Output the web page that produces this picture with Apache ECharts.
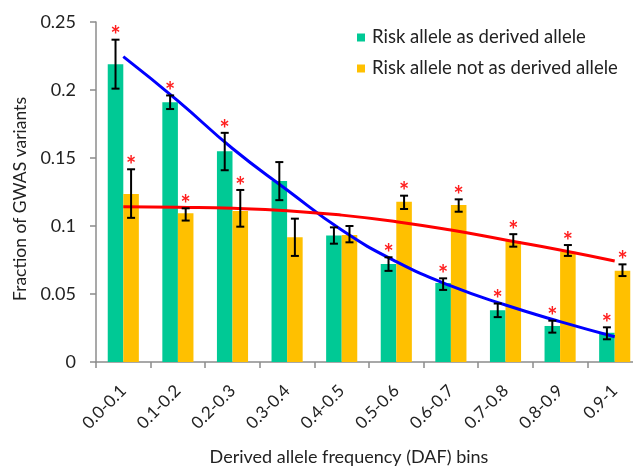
<!DOCTYPE html>
<html>
<head>
<meta charset="utf-8">
<script src="https://cdn.jsdelivr.net/npm/echarts@6/dist/echarts.min.js"></script>
<style>
  html, body { margin: 0; padding: 0; background: #fff; }
  #chart { width: 633px; height: 468px; }
</style>
</head>
<body>
<div id="chart"></div>
<script>
// DAF bins
const bins = ['0.0-0.1', '0.1-0.2', '0.2-0.3', '0.3-0.4', '0.4-0.5',
              '0.5-0.6', '0.6-0.7', '0.7-0.8', '0.8-0.9', '0.9-1'];

// Risk allele as derived allele
const derived      = [0.219, 0.191, 0.155, 0.133, 0.093, 0.072, 0.058, 0.038, 0.0265, 0.0215];
const derivedLow   = [0.201, 0.186, 0.141, 0.119, 0.087, 0.067, 0.053, 0.033, 0.0216, 0.0167];
const derivedHigh  = [0.237, 0.196, 0.1685, 0.147, 0.099, 0.077, 0.0615, 0.043, 0.0304, 0.0255];
const derivedSig   = [true, true, true, false, false, true, true, true, true, true];
const derivedTrend = [0.2245, 0.192, 0.157, 0.1265, 0.097, 0.0738, 0.0559, 0.0419, 0.0297, 0.0186];

// Risk allele not as derived allele
const notDerived      = [0.1235, 0.1093, 0.111, 0.0917, 0.0934, 0.1179, 0.1154, 0.089, 0.0811, 0.0671];
const notDerivedLow   = [0.106, 0.104, 0.0995, 0.078, 0.088, 0.1125, 0.1105, 0.0848, 0.078, 0.0632];
const notDerivedHigh  = [0.1417, 0.113, 0.1265, 0.1054, 0.100, 0.1223, 0.1196, 0.094, 0.086, 0.0718];
const notDerivedSig   = [true, true, true, false, false, true, true, true, true, true];
const notDerivedTrend = [0.1142, 0.1137, 0.113, 0.1113, 0.108, 0.1032, 0.097, 0.0897, 0.0824, 0.0743];

const FONT = 'Lato';
const GREEN = '#00C995';
const YELLOW = '#FFC000';
const BAR_FRAC = 0.285;

// error bars with caps, plus a red asterisk where the difference is significant
function errorSeries(low, high, sig, side) {
  return {
    type: 'custom',
    z: 5,
    silent: true,
    data: bins.map((b, i) => [i, low[i], high[i], sig[i] ? 1 : 0]),
    renderItem: function (params, api) {
      const i = api.value(0);
      const band = api.size([1, 0])[0];
      const dx = side * band * BAR_FRAC / 2;
      const lo = api.coord([i, api.value(1)]);
      const hi = api.coord([i, api.value(2)]);
      const x = lo[0] + dx;
      const cap = 4;
      const style = { stroke: '#000', lineWidth: 2 };
      const children = [
        { type: 'line', shape: { x1: x, y1: hi[1], x2: x, y2: lo[1] }, style: style },
        { type: 'line', shape: { x1: x - cap, y1: hi[1], x2: x + cap, y2: hi[1] }, style: style },
        { type: 'line', shape: { x1: x - cap, y1: lo[1], x2: x + cap, y2: lo[1] }, style: style }
      ];
      if (api.value(3)) {
        children.push({
          type: 'text',
          style: {
            x: x, y: hi[1] + 9, text: '*',
            fill: '#FF2020', font: 'bold 24px ' + FONT,
            align: 'center', verticalAlign: 'bottom'
          }
        });
      }
      return { type: 'group', children: children };
    }
  };
}

const chart = echarts.init(document.getElementById('chart'));
chart.setOption({
  animation: false,
  backgroundColor: '#fff',
  textStyle: { fontFamily: FONT },
  grid: { left: 96, top: 22, width: 546, height: 340, outerBoundsMode: 'none', containLabel: false },
  legend: {
    orient: 'vertical',
    left: 352, top: 23,
    itemWidth: 8, itemHeight: 8, itemGap: 12,
    icon: 'rect',
    textStyle: { fontFamily: FONT, fontSize: 18.5, color: '#222', padding: [0, 0, 0, 2] },
    data: ['Risk allele as derived allele', 'Risk allele not as derived allele']
  },
  xAxis: {
    type: 'category',
    data: bins,
    name: 'Derived allele frequency (DAF) bins',
    nameLocation: 'middle',
    nameGap: 86,
    nameTextStyle: { fontFamily: FONT, fontSize: 18, color: '#222', padding: [0, 40, 0, 0] },
    axisLine: { lineStyle: { color: '#8c8c8c', width: 1.5 } },
    axisTick: { show: true, length: 6, lineStyle: { color: '#8c8c8c', width: 1.5 } },
    axisLabel: { rotate: 45, fontFamily: FONT, fontSize: 17, color: '#222', margin: 26 }
  },
  yAxis: {
    type: 'value',
    min: 0, max: 0.25, interval: 0.05,
    name: 'Fraction of GWAS variants',
    nameLocation: 'middle',
    nameGap: 67,
    nameTextStyle: { fontFamily: FONT, fontSize: 17.5, color: '#222', padding: [0, 14, 0, 0] },
    splitLine: { show: false },
    axisLine: { show: true, lineStyle: { color: '#8c8c8c', width: 1.5 } },
    axisTick: { show: true, length: 6, lineStyle: { color: '#8c8c8c', width: 1.5 } },
    axisLabel: { fontFamily: FONT, fontSize: 18, color: '#222', margin: 20 }
  },
  series: [
    {
      name: 'Risk allele as derived allele',
      type: 'bar',
      data: derived,
      barWidth: (BAR_FRAC * 100) + '%',
      barGap: '0%',
      itemStyle: { color: GREEN }
    },
    {
      name: 'Risk allele not as derived allele',
      type: 'bar',
      data: notDerived,
      barWidth: (BAR_FRAC * 100) + '%',
      barGap: '0%',
      itemStyle: { color: YELLOW }
    },
    errorSeries(derivedLow, derivedHigh, derivedSig, -1),
    errorSeries(notDerivedLow, notDerivedHigh, notDerivedSig, 1),
    {
      type: 'line',
      data: derivedTrend,
      smooth: true,
      symbol: 'none',
      z: 4,
      lineStyle: { color: '#0000FF', width: 3 },
      silent: true
    },
    {
      type: 'line',
      data: notDerivedTrend,
      smooth: true,
      symbol: 'none',
      z: 4,
      lineStyle: { color: '#FF0000', width: 3 },
      silent: true
    }
  ]
});
</script>
</body>
</html>
